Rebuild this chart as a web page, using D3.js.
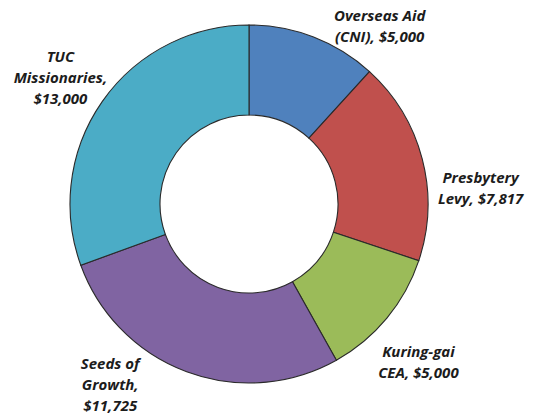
<!DOCTYPE html>
<html>
<head>
<meta charset="utf-8">
<script src="https://cdn.jsdelivr.net/npm/d3@7"></script>
<style>
  body { margin: 0; background: #fff; }
  svg text { font-family: "Open Sans", "Lato", sans-serif; font-weight: bold; font-style: italic; }
</style>
</head>
<body>
<svg id="chart" width="542" height="418"></svg>
<script>
// data
const categories = ["Overseas Aid (CNI)", "Presbytery Levy", "Kuring-gai CEA", "Seeds of Growth", "TUC Missionaries"];
const values = [5000, 7817, 5000, 11725, 13000];
const labelLines = [
  ["Overseas Aid", "(CNI), $5,000"],
  ["Presbytery", "Levy, $7,817"],
  ["Kuring-gai", "CEA, $5,000"],
  ["Seeds of", "Growth,", "$11,725"],
  ["TUC", "Missionaries,", "$13,000"]
];
const colors = ["#4F81BD", "#C0504D", "#9BBB59", "#8064A2", "#4BACC6"];

var svg = d3.select("#chart");
var width = +svg.attr("width");
var height = +svg.attr("height");

const cx = 249, cy = 204;
const outerR = 179, innerR = 89;
const labelR = 229;
const lineH = 21;
// small nudges so labels sit like Excel's best-fit ones
const nudge = [[48, 36], [10, 42], [-7, 12], [-59, -34], [-1, 5]];

const colorScale = d3.scaleOrdinal().domain(categories).range(colors);

const pie = d3.pie().sort(null).value(d => d.value);
const arcs = pie(categories.map((c, i) => ({ name: c, value: values[i], lines: labelLines[i] })));

const arc = d3.arc().innerRadius(innerR).outerRadius(outerR);

const g = svg.append("g").attr("transform", "translate(" + cx + "," + cy + ")");

g.selectAll(".slice")
    .data(arcs)
    .enter()
    .append("path")
    .attr("class", "slice")
    .attr("d", arc)
    .style("fill", d => colorScale(d.data.name))
    .style("stroke", "#2a2a2a")
    .style("stroke-width", 1.1);

// label positions from the slice mid-angle
function labelPos(d, i) {
    var a = (d.startAngle + d.endAngle) / 2;
    return [Math.sin(a) * labelR + nudge[i][0], -Math.cos(a) * labelR + nudge[i][1]];
}

const labels = g.selectAll(".label")
    .data(arcs)
    .enter()
    .append("text")
    .attr("class", "label")
    .attr("text-anchor", "middle")
    .style("font-size", "15px")
    .style("fill", "#1c1c1c")
    .attr("transform", (d, i) => {
        var p = labelPos(d, i);
        var n = d.data.lines.length;
        return "translate(" + p[0] + "," + (p[1] - (n - 1) * lineH / 2) + ")";
    });

labels.selectAll("tspan")
    .data(d => d.data.lines)
    .enter()
    .append("tspan")
    .attr("x", 0)
    .attr("y", (d, i) => i * lineH)
    .attr("dy", "0.35em")
    .text(d => d);
</script>
</body>
</html>
